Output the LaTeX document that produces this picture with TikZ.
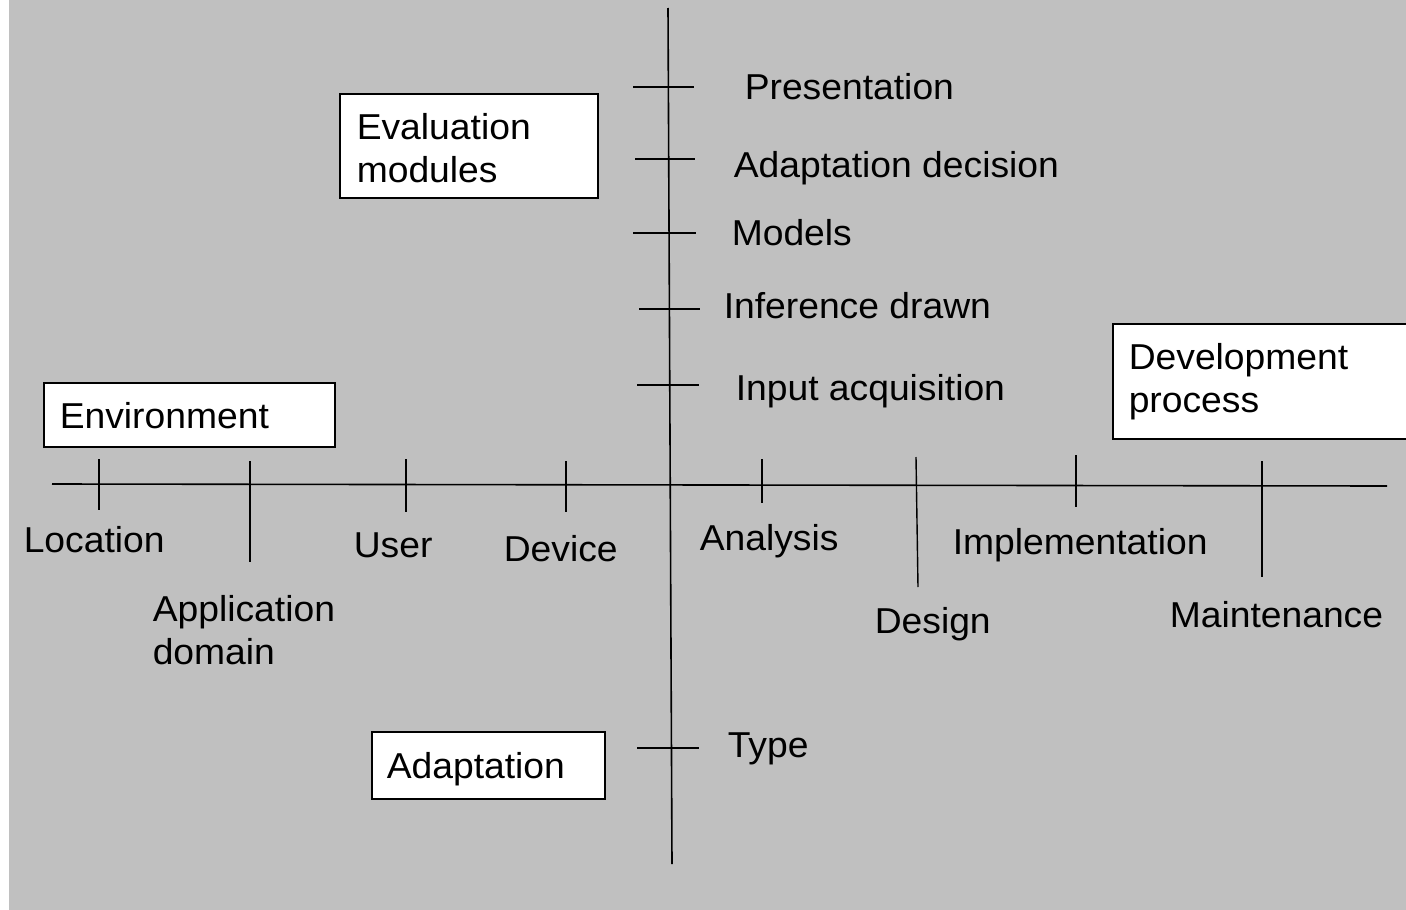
\documentclass[tikz,border=0pt]{standalone}
\usepackage{fontspec}
\setmainfont[FakeStretch=1.035]{Liberation Sans}
\definecolor{bggrey}{HTML}{C0C0C0}
\begin{document}
\begin{tikzpicture}[x=1pt,y=-1pt,line width=1.5pt,
  lbl/.style={anchor=base west,inner sep=0pt,font=\fontsize{36}{43}\selectfont},
  mlbl/.style={anchor=north west,inner sep=0pt,align=left,font=\fontsize{36}{43}\selectfont},
  boxnode/.style={draw,fill=white,line width=1.5pt,anchor=north west,inner sep=0pt},
  axis/.style={line width=1.6pt},
  tick/.style={line width=1.4pt}]
\fill[white] (0,0) rectangle (1406,910);
\fill[bggrey] (8.5,0) rectangle (1406,910);
\useasboundingbox (0,0) rectangle (1406,910);

% boxes
\node[boxnode,minimum width=258,minimum height=104] (evalbox) at (339,93) {};
\node[boxnode,minimum width=291,minimum height=64] (envbox) at (43,382) {};
\node[boxnode,minimum width=300,minimum height=115] (devbox) at (1112,323) {};
\node[boxnode,minimum width=233,minimum height=67] (adabox) at (371,731) {};

% box texts
\node[mlbl] (evaltext) at (356,113) {Evaluation\\modules};
\node[lbl] (envtext) at (59,428) {Environment};
\node[mlbl] (devtext) at (1128,343) {Development\\process};
\node[lbl] (adatext) at (386,778) {Adaptation};

% axes
\coordinate (vtop) at (668,8);
\coordinate (vbot) at (672,864);
\coordinate (hl) at (52,484);
\coordinate (hr) at (1387,486);
\draw[axis] (vtop) -- (vbot);
\draw[axis] (hl) -- (hr);

% ticks on vertical axis
\draw[tick] (633,87) -- (694,87);
\draw[tick] (635,159) -- (695,159);
\draw[tick] (633,233) -- (696,233);
\draw[tick] (639,309) -- (700,309);
\draw[tick] (637,385) -- (699,385);
\draw[tick] (637,748) -- (699,748);

% ticks on horizontal axis
\draw[tick] (99,459) -- (99,510);
\draw[tick] (250,461) -- (250,562);
\draw[tick] (406,459) -- (406,512);
\draw[tick] (566,461) -- (566,512);
\draw[tick] (762,459) -- (762,503);
\draw[tick] (916,457) -- (918,587);
\draw[tick] (1076,455) -- (1076,507);
\draw[tick] (1262,461) -- (1262,577);

% vertical axis labels
\node[lbl] (pres) at (744,99) {Presentation};
\node[lbl] (adec) at (733,177) {Adaptation decision};
\node[lbl] (models) at (731,245) {Models};
\node[lbl] (infer) at (723,318) {Inference drawn};
\node[lbl] (input) at (735,400) {Input acquisition};
\node[lbl] (type) at (727,757) {Type};

% horizontal axis labels
\node[lbl] (loc) at (23,552) {Location};
\node[mlbl] (appdom) at (152,595) {Application\\domain};
\node[lbl] (user) at (353,557) {User};
\node[lbl] (device) at (503,561) {Device};
\node[lbl] (analysis) at (699,550) {Analysis};
\node[lbl] (impl) at (952,554) {Implementation};
\node[lbl] (design) at (874,633) {Design};
\node[lbl] (maint) at (1169,627) {Maintenance};
\end{tikzpicture}
\end{document}
